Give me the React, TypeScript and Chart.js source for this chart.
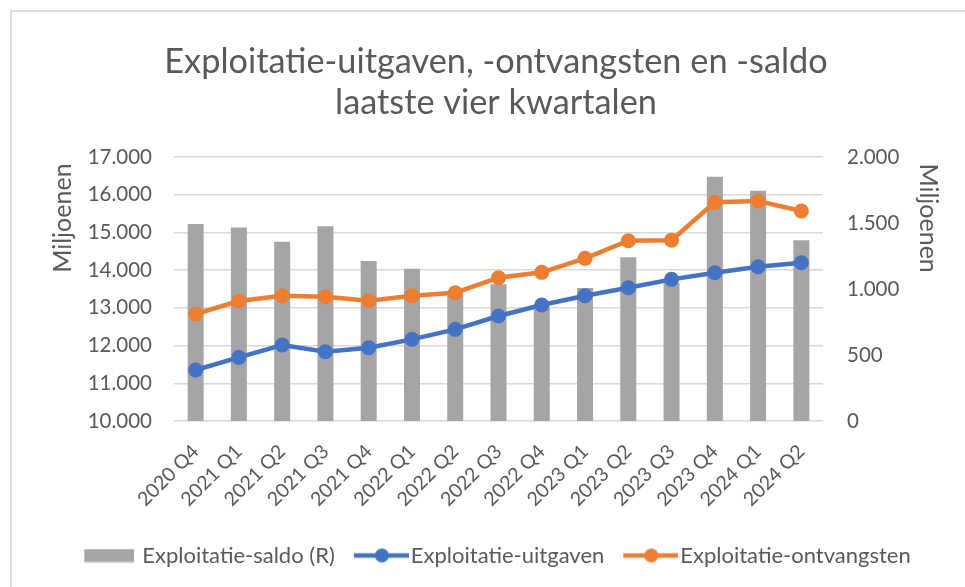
import React, { useEffect, useRef } from 'react';
import { Chart, registerables } from 'chart.js';

Chart.register(...registerables);

const categories = [
  '2020 Q4', '2021 Q1', '2021 Q2', '2021 Q3', '2021 Q4', '2022 Q1', '2022 Q2', '2022 Q3',
  '2022 Q4', '2023 Q1', '2023 Q2', '2023 Q3', '2023 Q4', '2024 Q1', '2024 Q2',
];
const saldo = [1492, 1465, 1358, 1475, 1212, 1154, 975, 1036, 865, 1008, 1240, 1045, 1851, 1745, 1369];
const uitgaven = [11352, 11688, 12015, 11837, 11943, 12165, 12430, 12784, 13075, 13322, 13534, 13756, 13932, 14091, 14197];
const ontvangsten = [12837, 13181, 13322, 13296, 13190, 13322, 13402, 13800, 13942, 14313, 14781, 14795, 15798, 15833, 15568];

const seriesNames = ['Exploitatie-saldo (R)', 'Exploitatie-uitgaven', 'Exploitatie-ontvangsten'];
const titleLines = ['Exploitatie-uitgaven, -ontvangsten en -saldo', 'laatste vier kwartalen'];
const axisTitle = 'Miljoenen';
const leftRange = [10000, 17000, 1000];
const rightRange = [0, 2000, 500];

const TEXT = '#595959';
const GRID = '#d9d9d9';
const C_SALDO = '#a5a5a5';
const C_UIT = '#4472c4';
const C_ONT = '#ed7d31';
const FONT = 'Lato';

function fmt(v: number): string {
  return String(Math.round(v)).replace(/\B(?=(\d{3})+(?!\d))/g, '.');
}

function boxIcon(color: string): HTMLCanvasElement {
  const c = document.createElement('canvas');
  c.width = 56;
  c.height = 14;
  const g = c.getContext('2d')!;
  g.fillStyle = color;
  g.fillRect(6, 0.5, 50, 13);
  return c;
}

function lineIcon(color: string): HTMLCanvasElement {
  const c = document.createElement('canvas');
  c.width = 68;
  c.height = 16;
  const g = c.getContext('2d')!;
  g.strokeStyle = color;
  g.lineWidth = 4.5;
  g.beginPath();
  g.moveTo(13, 8);
  g.lineTo(68, 8);
  g.stroke();
  g.fillStyle = color;
  g.beginPath();
  g.arc(41, 8, 7, 0, Math.PI * 2);
  g.fill();
  return c;
}

export default function App() {
  const ref = useRef<HTMLCanvasElement>(null);

  useEffect(() => {
    const icons = [boxIcon(C_SALDO), lineIcon(C_UIT), lineIcon(C_ONT)];
    const colors = [C_SALDO, C_UIT, C_ONT];
    const chart = new Chart(ref.current!, {
      type: 'bar',
      data: {
        labels: categories,
        datasets: [
          {
            type: 'bar',
            label: seriesNames[0],
            data: saldo,
            yAxisID: 'y1',
            backgroundColor: C_SALDO,
            barPercentage: 0.37,
            categoryPercentage: 1,
            order: 10,
          },
          {
            type: 'line',
            label: seriesNames[1],
            data: uitgaven,
            yAxisID: 'y',
            borderColor: C_UIT,
            backgroundColor: C_UIT,
            borderWidth: 4.5,
            pointRadius: 7.5,
            pointBorderWidth: 0,
            pointBackgroundColor: C_UIT,
            tension: 0,
            order: 1,
          },
          {
            type: 'line',
            label: seriesNames[2],
            data: ontvangsten,
            yAxisID: 'y',
            borderColor: C_ONT,
            backgroundColor: C_ONT,
            borderWidth: 4.5,
            pointRadius: 7.5,
            pointBorderWidth: 0,
            pointBackgroundColor: C_ONT,
            tension: 0,
            order: 0,
          },
        ] as any,
      },
      options: {
        responsive: false,
        animation: false,
        devicePixelRatio: 1,
        font: { family: FONT },
        layout: { padding: { left: 27, right: 0, top: 0, bottom: 10.5 } },
        plugins: {
          title: {
            display: true,
            text: titleLines,
            color: TEXT,
            font: { family: FONT, size: 34.3, weight: 'normal', lineHeight: 41 / 34.3 },
            padding: { top: 41.5, bottom: 33.5 },
          },
          legend: {
            position: 'bottom',
            labels: {
              usePointStyle: true,
              pointStyleWidth: 50,
              padding: 15,
              color: TEXT,
              font: { family: FONT, size: 22 },
              generateLabels: () =>
                seriesNames.map((name, i) => ({
                  text: name,
                  fillStyle: colors[i],
                  strokeStyle: colors[i],
                  lineWidth: 0,
                  pointStyle: icons[i] as any,
                  hidden: false,
                  datasetIndex: i,
                  fontColor: TEXT,
                })),
            },
          },
          tooltip: { enabled: false },
        },
        scales: {
          x: {
            offset: true,
            grid: { display: false },
            border: { display: false },
            ticks: {
              color: TEXT,
              font: { family: FONT, size: 19.5 },
              minRotation: 45,
              maxRotation: 45,
              autoSkip: false,
              padding: 11,
            },
            afterFit: (s: any) => {
              s.height = 108.5;
            },
          },
          y: {
            position: 'left',
            min: leftRange[0],
            max: leftRange[1],
            ticks: {
              stepSize: leftRange[2],
              callback: (v: any) => fmt(Number(v)),
              color: TEXT,
              font: { family: FONT, size: 20.5 },
              padding: 22,
            },
            grid: { color: GRID, lineWidth: 1.5, drawTicks: false },
            border: { display: false },
            title: {
              display: true,
              text: axisTitle + ' ',
              align: 'end',
              color: TEXT,
              font: { family: FONT, size: 25 },
              padding: { top: 21, bottom: 0 },
            },
            afterFit: (s: any) => {
              s.width = 147;
            },
          },
          y1: {
            position: 'right',
            min: rightRange[0],
            max: rightRange[1],
            ticks: {
              stepSize: rightRange[2],
              callback: (v: any) => fmt(Number(v)),
              color: TEXT,
              font: { family: FONT, size: 20.5 },
              padding: 24,
            },
            grid: { display: false, drawTicks: false },
            border: { display: false },
            title: {
              display: true,
              text: ' ' + axisTitle,
              align: 'end',
              color: TEXT,
              font: { family: FONT, size: 25 },
              padding: { top: 22, bottom: 0 },
            },
            afterFit: (s: any) => {
              s.width = 142;
            },
          },
        },
      } as any,
    });
    return () => chart.destroy();
  }, []);

  return (
    <div
      style={{
        position: 'fixed',
        left: 0,
        top: 0,
        width: 965,
        height: 587,
        overflow: 'hidden',
        background: '#ffffff',
      }}
    >
      <div
        style={{
          position: 'absolute',
          left: 10,
          top: 10,
          width: 1200,
          height: 1200,
          border: '2px solid #dcdcdc',
          boxSizing: 'border-box',
        }}
      />
      <canvas
        ref={ref}
        width={965}
        height={587}
        style={{ position: 'absolute', left: 0, top: 0, width: 965, height: 587 }}
      />
    </div>
  );
}
